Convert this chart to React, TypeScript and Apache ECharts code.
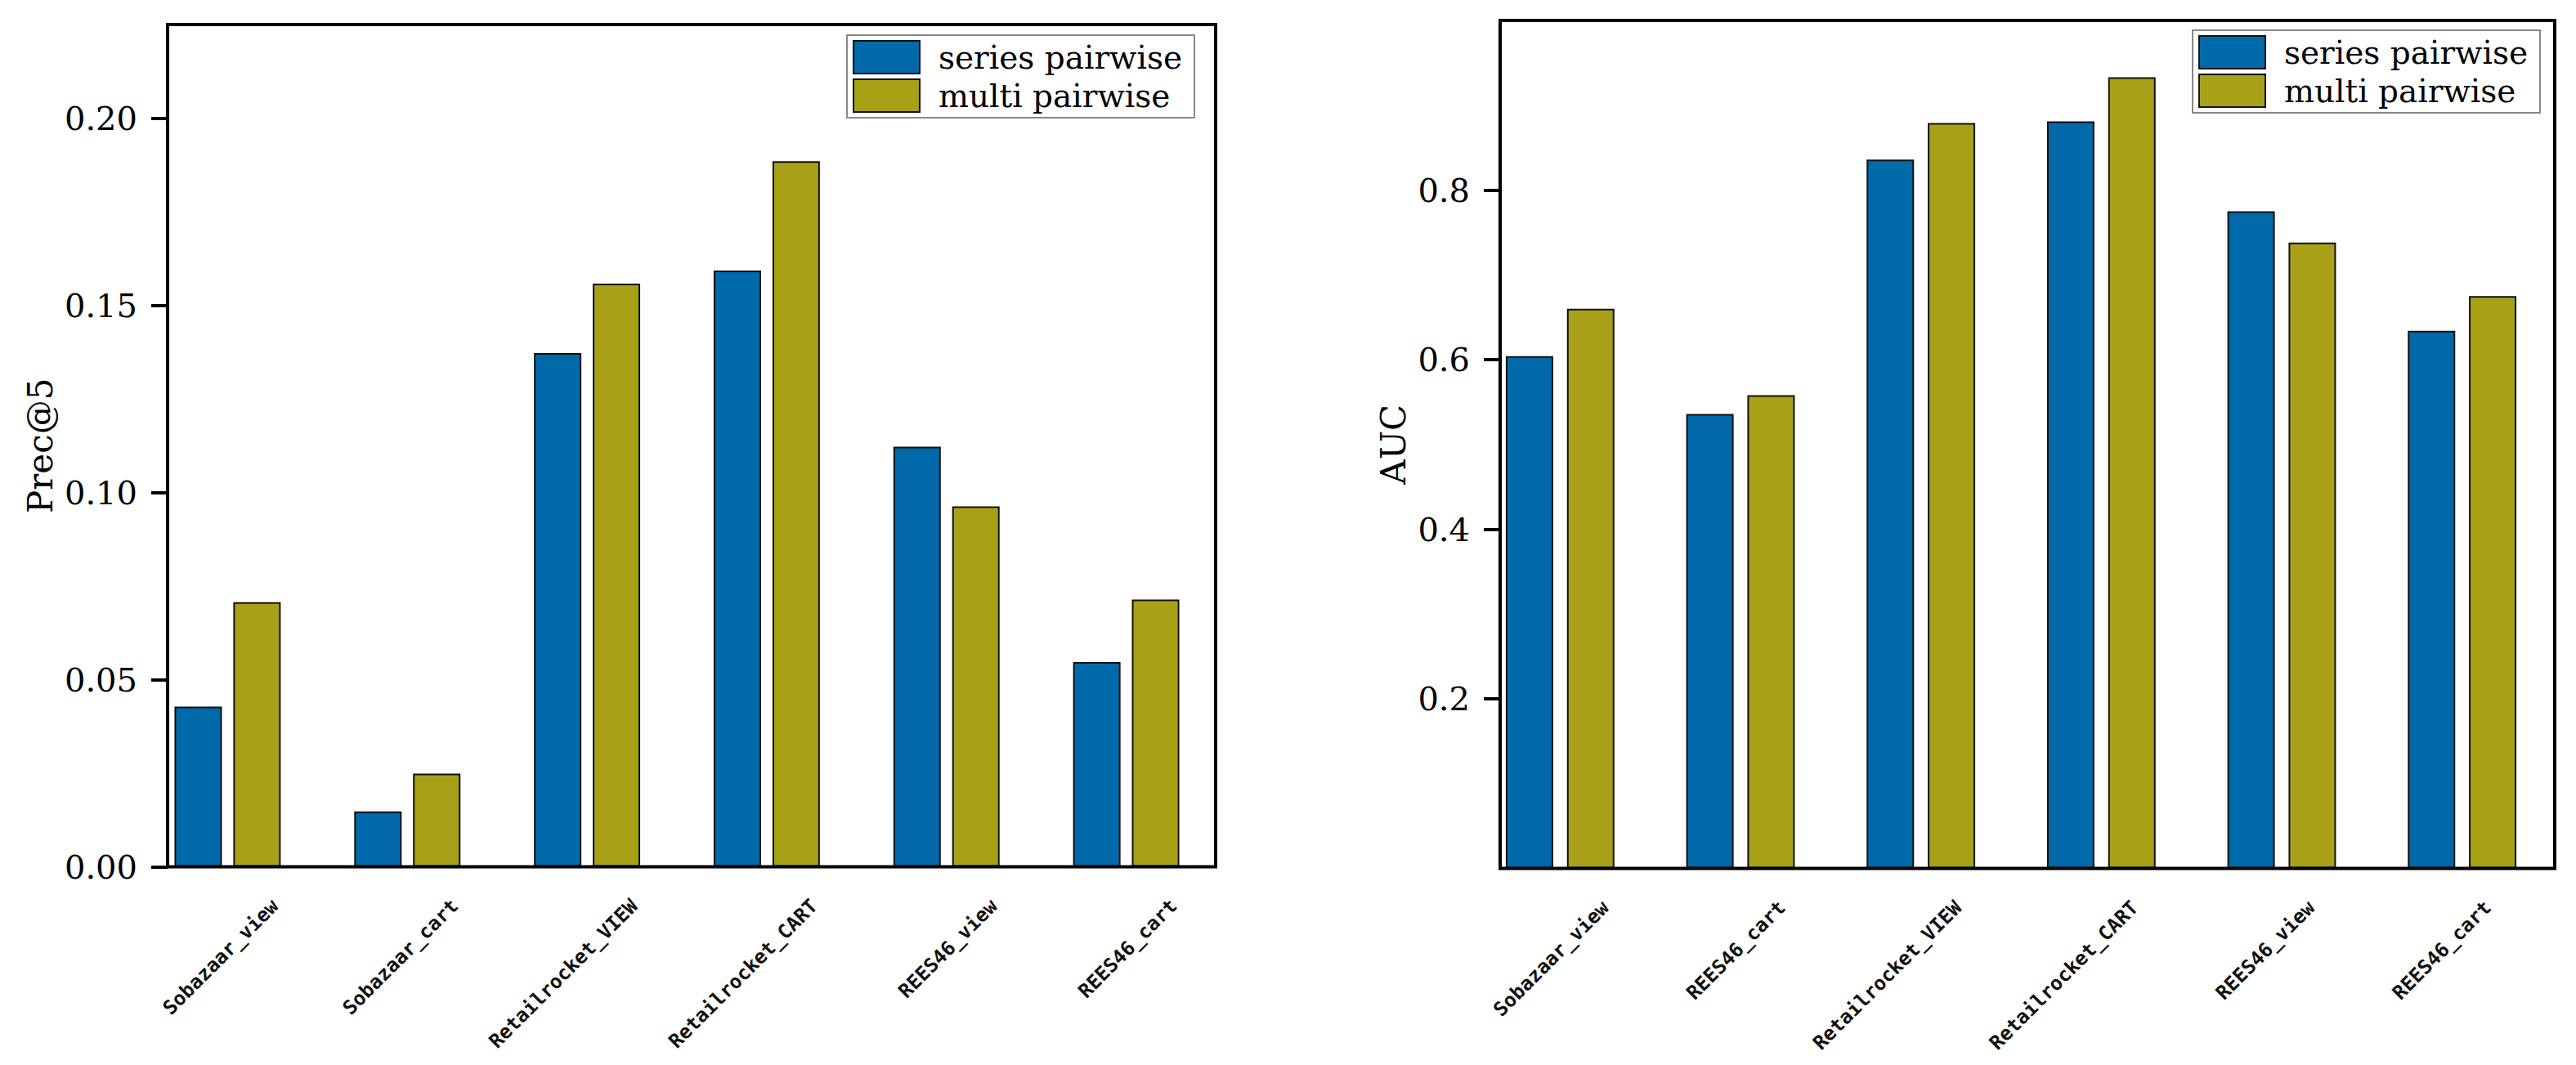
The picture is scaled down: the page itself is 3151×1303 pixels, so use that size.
import React, { useEffect, useRef } from "react";
import * as echarts from "echarts";

const precCategories = ["Sobazaar_view", "Sobazaar_cart", "Retailrocket_VIEW", "Retailrocket_CART", "REES46_view", "REES46_cart"];
const aucCategories = ["Sobazaar_view", "REES46_cart", "Retailrocket_VIEW", "Retailrocket_CART", "REES46_view", "REES46_cart"];
const seriesNames = ["series pairwise", "multi pairwise"];
const precSeriesPairwise = [0.0428, 0.0148, 0.1372, 0.1593, 0.1122, 0.0547];
const precMultiPairwise = [0.0707, 0.0249, 0.1558, 0.1885, 0.0963, 0.0714];
const aucSeriesPairwise = [0.604, 0.536, 0.836, 0.881, 0.775, 0.634];
const aucMultiPairwise = [0.660, 0.558, 0.879, 0.933, 0.738, 0.675];
const precTicks = [0, 0.05, 0.1, 0.15, 0.2];
const aucTicks = [0.2, 0.4, 0.6, 0.8];
const precMax = 0.225;
const aucMax = 1;

const BLUE = "#0069A9";
const OLIVE = "#A8A117";
const SERIF = "DejaVu Serif";
const MONO_SANS = "DejaVu Sans Mono";

function panel(idx: number, p: any) {
  const g = idx * 3;
  const grids = [
    { left: p.frameLeft, top: p.top, width: p.frameWidth, height: p.height, show: true, borderColor: "#000", borderWidth: 4, backgroundColor: "transparent", z: 10 },
    { left: p.barsLeft, top: p.top, width: p.barsWidth, height: p.height },
    { left: p.barsLeft + p.labelShift, top: p.top, width: p.barsWidth, height: p.height },
  ];
  const xAxes = [
    { gridIndex: g, type: "value", show: false },
    { gridIndex: g + 1, type: "category", data: p.categories, show: false },
    {
      gridIndex: g + 2, type: "category", data: p.categories,
      axisLine: { show: false }, axisTick: { show: false }, splitLine: { show: false },
      axisLabel: { interval: 0, rotate: 45, margin: 44, fontFamily: MONO_SANS, fontSize: 24, fontWeight: "bold", color: "#111" },
    },
  ];
  const yAxes = [
    {
      gridIndex: g, type: "value", min: 0, max: p.max,
      axisLine: { show: false }, splitLine: { show: false },
      axisTick: { show: true, customValues: p.ticks, length: 20, lineStyle: { color: "#000", width: 4 } },
      axisLabel: { customValues: p.ticks, margin: 37, fontFamily: SERIF, fontSize: 40, color: "#000", formatter: (v: number) => v.toFixed(p.decimals) },
      name: p.name, nameLocation: "middle", nameRotate: 90, nameGap: p.nameGap,
      nameTextStyle: { fontFamily: SERIF, fontSize: 42, color: "#000" },
    },
    { gridIndex: g + 1, type: "value", min: 0, max: p.max, show: false },
    { gridIndex: g + 2, type: "value", min: 0, max: p.max, show: false },
  ];
  const series = [
    { type: "bar", name: seriesNames[0], xAxisIndex: g + 1, yAxisIndex: g + 1, data: p.s1, barWidth: 58, barGap: p.barGap, itemStyle: { color: BLUE, borderColor: "#111", borderWidth: 2 } },
    { type: "bar", name: seriesNames[1], xAxisIndex: g + 1, yAxisIndex: g + 1, data: p.s2, barWidth: 58, barGap: p.barGap, itemStyle: { color: OLIVE, borderColor: "#111", borderWidth: 2 } },
  ];
  const legend = {
    orient: "vertical", left: p.legendLeft, top: p.legendTop,
    itemWidth: 81, itemHeight: 40, itemGap: 5, icon: "rect",
    padding: [6, 15, 6, 7], borderColor: "#888", borderWidth: 2, backgroundColor: "#fff",
    textStyle: { fontFamily: SERIF, fontSize: 39, color: "#000", padding: [0, 0, 0, 18] },
    data: seriesNames, selectedMode: false,
  };
  return { grids, xAxes, yAxes, series, legend };
}

export default function App() {
  const ref = useRef<HTMLDivElement>(null);
  useEffect(() => {
    if (!ref.current) return;
    const chart = echarts.init(ref.current, undefined, { renderer: "svg" });
    const left = panel(0, {
      frameLeft: 205, frameWidth: 1282, top: 30, height: 1030.5,
      barsLeft: 168.5, barsWidth: 1319, labelShift: 58,
      categories: precCategories, s1: precSeriesPairwise, s2: precMultiPairwise,
      max: precMax, ticks: precTicks, decimals: 2, name: "Prec@5", nameGap: 135,
      barGap: "24%", legendLeft: 1036, legendTop: 43,
    });
    const right = panel(1, {
      frameLeft: 1835, frameWidth: 1290, top: 25, height: 1037.5,
      barsLeft: 1798, barsWidth: 1324, labelShift: 58,
      categories: aucCategories, s1: aucSeriesPairwise, s2: aucMultiPairwise,
      max: aucMax, ticks: aucTicks, decimals: 1, name: "AUC", nameGap: 110,
      barGap: "29%", legendLeft: 2682, legendTop: 37,
    });
    chart.setOption({
      animation: false,
      backgroundColor: "#fff",
      grid: [...left.grids, ...right.grids],
      xAxis: [...left.xAxes, ...right.xAxes],
      yAxis: [...left.yAxes, ...right.yAxes],
      series: [...left.series, ...right.series],
      legend: [left.legend, right.legend],
    });
    return () => chart.dispose();
  }, []);
  return <div ref={ref} style={{ position: "absolute", left: 0, top: 0, width: 3151, height: 1303 }} />;
}
